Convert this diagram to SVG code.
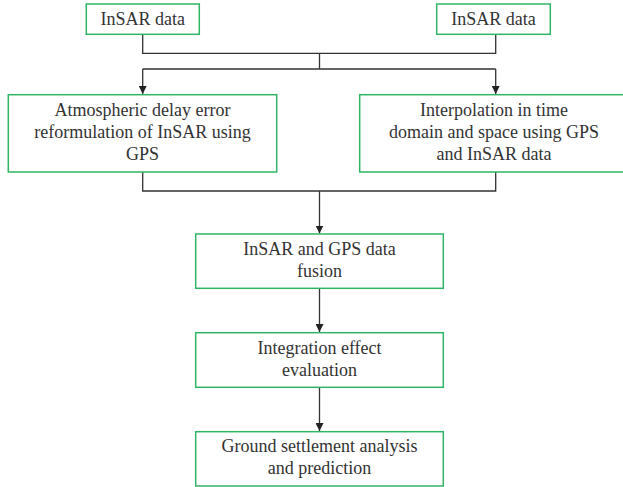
<svg xmlns="http://www.w3.org/2000/svg" width="623" height="487" viewBox="0 0 623 487">
<style>
.box{fill:#fff;stroke:#2fb565;stroke-width:1.5}
text{font-family:'Liberation Serif','Times New Roman',serif;font-size:18px;fill:#333;text-anchor:middle}
.c{fill:none;stroke:#333;stroke-width:1.3}
</style>
<defs>
<marker id="ah" viewBox="0 0 8 8" markerWidth="8" markerHeight="8" refX="8" refY="4" orient="auto" markerUnits="userSpaceOnUse">
<path d="M0,0 L8,4 L0,8 Z" fill="#222"/>
</marker>
</defs>
<rect width="623" height="487" fill="#fff"/>
<g id="connectors">
<path class="c" d="M142.7,34.3 V53.3 H495.7 V34.3"/>
<path class="c" d="M319.5,53.3 V69 M142.7,69 H495.7"/>
<path class="c" d="M142.7,69 V94" marker-end="url(#ah)"/>
<path class="c" d="M495.7,69 V94" marker-end="url(#ah)"/>
<path class="c" d="M142.7,172 V191 H495.7 V172"/>
<path class="c" d="M319.5,191 V233.5" marker-end="url(#ah)"/>
<path class="c" d="M319.5,288.3 V332" marker-end="url(#ah)"/>
<path class="c" d="M319.5,387.3 V431" marker-end="url(#ah)"/>
</g>
<g id="insar1">
<rect class="box" x="86.3" y="4" width="113" height="30.3"/>
<text x="142.8" y="25">InSAR data</text>
</g>
<g id="insar2">
<rect class="box" x="436.7" y="4" width="113.6" height="30.3"/>
<text x="493.5" y="25">InSAR data</text>
</g>
<g id="atmos">
<rect class="box" x="8.3" y="94.7" width="268.4" height="77.3"/>
<text x="142.5" y="115.5">Atmospheric delay error</text>
<text x="142.5" y="137.5">reformulation of InSAR using</text>
<text x="142.5" y="159.5">GPS</text>
</g>
<g id="interp">
<rect class="box" x="359.7" y="94.7" width="268.4" height="77.3"/>
<text x="494" y="115.5">Interpolation in time</text>
<text x="494" y="137.5">domain and space using GPS</text>
<text x="494" y="159.5">and InSAR data</text>
</g>
<g id="fusion">
<rect class="box" x="195.7" y="234" width="247.6" height="54.3"/>
<text x="319.5" y="255">InSAR and GPS data</text>
<text x="319.5" y="277">fusion</text>
</g>
<g id="evaluation">
<rect class="box" x="195.7" y="332.7" width="247.6" height="54.6"/>
<text x="319.5" y="354">Integration effect</text>
<text x="319.5" y="376">evaluation</text>
</g>
<g id="prediction">
<rect class="box" x="195.7" y="431.7" width="247.6" height="54.3"/>
<text x="319.5" y="452">Ground settlement analysis</text>
<text x="319.5" y="474">and prediction</text>
</g>
</svg>
